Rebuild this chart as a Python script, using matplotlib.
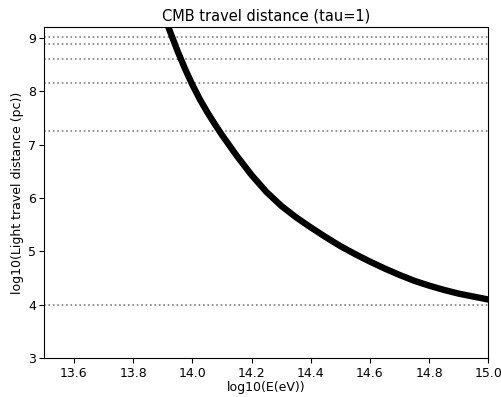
import matplotlib
matplotlib.use("Agg")
import matplotlib.pyplot as plt

# --------------------------
# Data
# --------------------------
log_energy = [13.900, 13.925, 13.950, 13.975, 14.000, 14.025, 14.050, 14.075,
              14.100, 14.150, 14.200, 14.250, 14.300, 14.350, 14.400, 14.450,
              14.500, 14.550, 14.600, 14.650, 14.700, 14.750, 14.800, 14.850,
              14.900, 14.950, 15.000]
log_distance = [9.49, 9.11, 8.75, 8.42, 8.12, 7.85, 7.61, 7.39,
                7.18, 6.79, 6.43, 6.115, 5.855, 5.64, 5.45, 5.27,
                5.10, 4.95, 4.81, 4.68, 4.56, 4.45, 4.36, 4.28,
                4.21, 4.155, 4.10]

# reference distances drawn as dotted lines
ref_levels = [9.02, 8.875, 8.60, 8.157, 7.26, 4.0]

# --------------------------
# Plot
# --------------------------
fig = plt.figure(figsize=(5.01, 3.97), dpi=100)
ax = fig.add_axes([0.0886, 0.0975, 0.886, 0.8345])

for level in ref_levels:
    ax.axhline(level, color="gray", linestyle=":", linewidth=1.2)

ax.plot(log_energy, log_distance, color="black", linewidth=4.6,
        solid_joinstyle="round")

ax.set_xlim(13.5, 15.0)
ax.set_ylim(3, 9.2)
ax.tick_params(labelsize=9, pad=2.5)
ax.set_title("CMB travel distance (tau=1)", fontsize=10.5, pad=5)
ax.set_xlabel("log10(E(eV))", fontsize=9, labelpad=1)
ax.set_ylabel("log10(Light travel distance (pc))", fontsize=9, labelpad=3)

fig.savefig("out.png", dpi=100)
